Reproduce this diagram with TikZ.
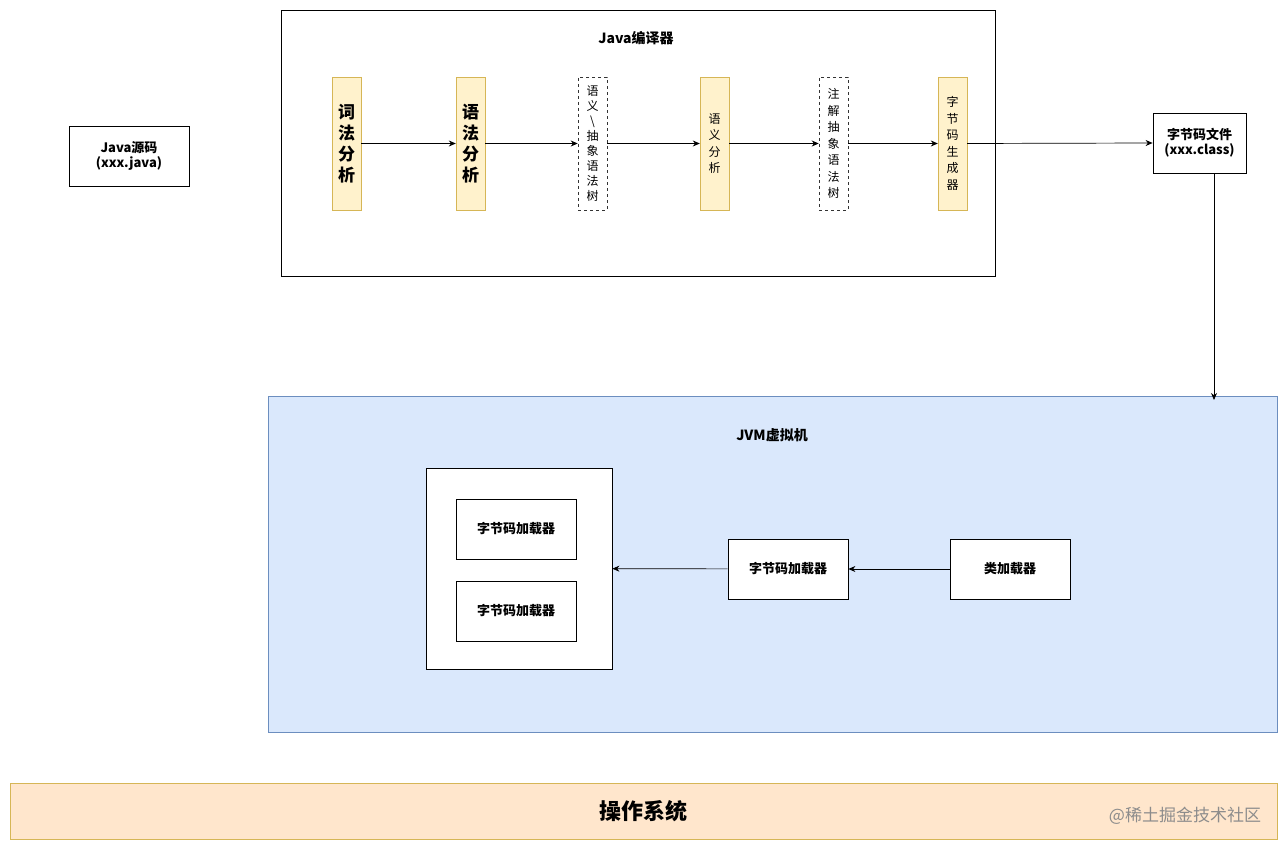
\documentclass[tikz,border=0pt]{standalone}
\usepackage{fontspec}
\setmainfont{Noto Sans CJK SC}
\usetikzlibrary{arrows.meta}
\begin{document}
\begin{tikzpicture}[x=1pt,y=-1pt,
  box/.style={draw=black,fill=white,line width=0.8pt},
  dstage/.style={draw=black!80,fill=white,dashed,line width=0.6pt},
  lbl/.style={font=\fontsize{13}{15}\selectfont\bfseries,align=center},
  vt/.style={align=center,font=\fontsize{12}{16.5}\selectfont},
  vts/.style={align=center,font=\fontsize{12}{15}\selectfont},
  vtb/.style={align=center,font=\fontsize{17}{21}\selectfont\bfseries},
  arr/.style={-{Stealth[length=7pt,width=6pt]},line width=0.7pt}]
\definecolor{ystage}{HTML}{FFF2CC}
\definecolor{ydraw}{HTML}{D6B656}
\definecolor{jvmf}{HTML}{DAE8FC}
\definecolor{jvmd}{HTML}{6C8EBF}
\definecolor{osf}{HTML}{FFE6CC}
\useasboundingbox (0,0) rectangle (1288,850);
\fill[white] (0,0) rectangle (1288,850);
% compiler
\draw[line width=0.8pt] (281,10) rectangle (995,276);
\node[lbl,font=\fontsize{14}{16}\selectfont\bfseries] (ctitle) at (636,38) {Java编译器};
\node[box,lbl,minimum width=120pt,minimum height=60pt] (src) at (129,156) {Java源码\\(xxx.java)};
\tikzset{st/.style={minimum width=29pt,minimum height=133pt,inner sep=0pt}}
\node[st,draw=ydraw,fill=ystage,vtb] (s1) at (346.5,143.5) {词\\法\\分\\析};
\node[st,draw=ydraw,fill=ystage,vtb] (s2) at (470.5,143.5) {语\\法\\分\\析};
\node[st,dstage,vts] (s3) at (592.5,143.5) {语\\义\\\textbackslash\\抽\\象\\语\\法\\树};
\node[st,draw=ydraw,fill=ystage,vt] (s4) at (714.5,143.5) {语\\义\\分\\析};
\node[st,dstage,vt] (s5) at (833.5,143.5) {注\\解\\抽\\象\\语\\法\\树};
\node[st,draw=ydraw,fill=ystage,vt] (s6) at (952.5,143.5) {字\\节\\码\\生\\成\\器};
\draw[arr] (s1) -- (s2);
\draw[arr] (s2) -- (s3);
\draw[arr] (s3) -- (s4);
\draw[arr] (s4) -- (s5);
\draw[arr] (s5) -- (s6);
\node[box,lbl,minimum width=93pt,minimum height=60pt] (cls) at (1199.5,143) {字节码文件\\(xxx.class)};
\draw[arr] (s6.east) -- (cls.west);
% JVM
\node[draw=jvmd,fill=jvmf,minimum width=1009pt,minimum height=336pt,line width=0.6pt] (jvm) at (772.5,564) {};
\coordinate (jin) at (1214,400);
\draw[arr] (cls.south -| jin) -- (jin);
\node[lbl,font=\fontsize{14}{16}\selectfont\bfseries] (jtitle) at (772,435) {JVM虚拟机};
\node[box,minimum width=186pt,minimum height=201pt] (inner) at (519,568.5) {};
\tikzset{ld/.style={box,lbl,minimum width=120pt,minimum height=60pt}}
\node[ld] (b1) at (516,529) {字节码加载器};
\node[ld] (b2) at (516,611) {字节码加载器};
\node[ld] (b3) at (788,569) {字节码加载器};
\node[ld] (b4) at (1010,569) {类加载器};
\draw[arr] (b4) -- (b3);
\draw[arr] (b3) -- (inner);
% OS
\node[draw=ydraw,fill=osf,minimum width=1267pt,minimum height=56pt,line width=0.6pt,font=\fontsize{22}{26}\selectfont\bfseries] (os) at (643.5,811) {操作系统};
\node[text=black!45,font=\fontsize{17}{20}\selectfont] (wm) at (1185,816) {@稀土掘金技术社区};
\end{tikzpicture}
\end{document}
